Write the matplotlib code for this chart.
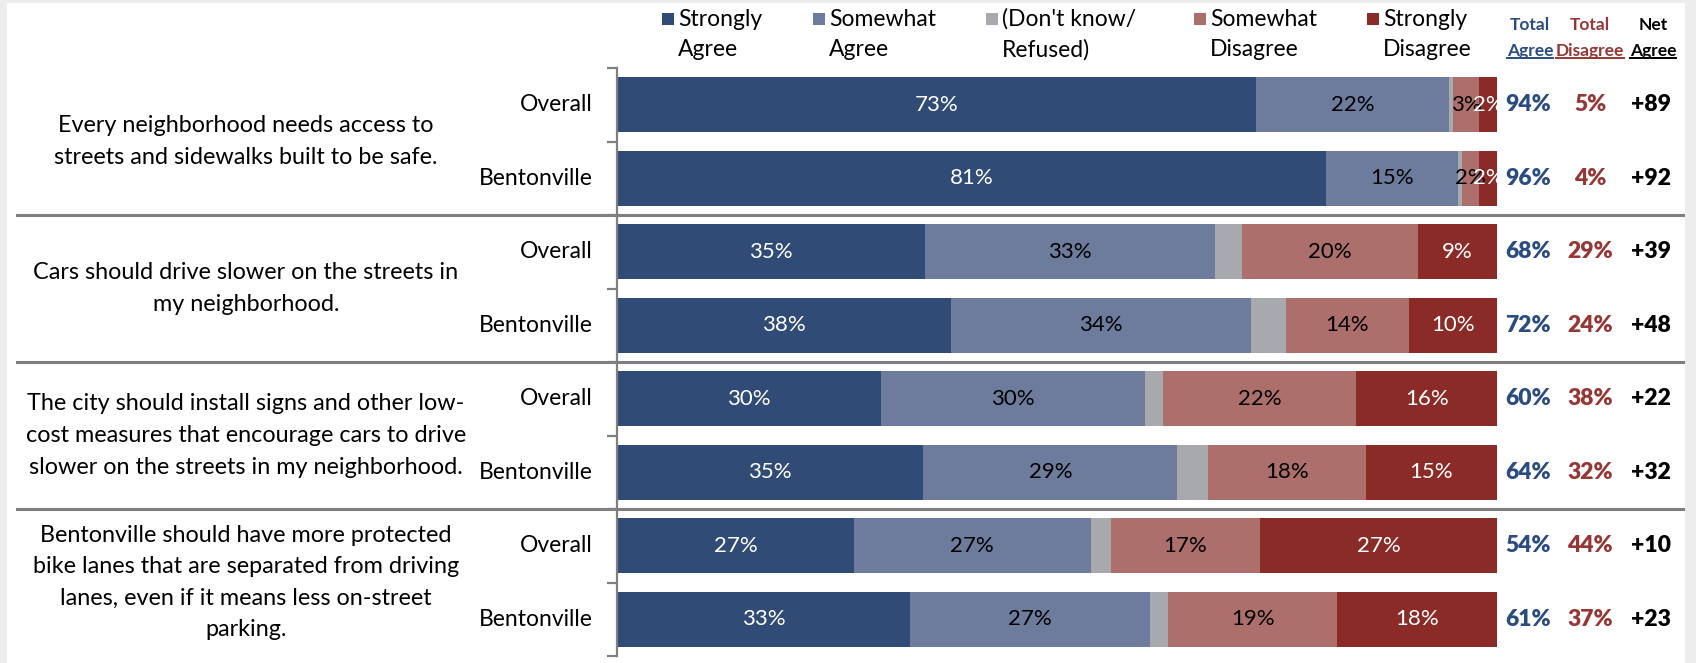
import numpy as np
import matplotlib
matplotlib.use("Agg")
import matplotlib.pyplot as plt
from matplotlib.patches import Rectangle
from matplotlib.lines import Line2D
from matplotlib.transforms import blended_transform_factory

plt.rcParams["font.family"] = ["Lato", "DejaVu Sans"]

# --- données (haut -> bas) ---
questions = [
    "Every neighborhood needs access to\nstreets and sidewalks built to be safe.",
    "Cars should drive slower on the streets in\nmy neighborhood.",
    "The city should install signs and other low-\ncost measures that encourage cars to drive\nslower on the streets in my neighborhood.",
    "Bentonville should have more protected\nbike lanes that are separated from driving\nlanes, even if it means less on-street\nparking.",
]
groups = ["Overall", "Bentonville"] * 4

strongly_agree = [73, 81, 35, 38, 30, 35, 27, 33]
somewhat_agree = [22, 15, 33, 34, 30, 29, 27, 27]
dont_know = [0.5, 0.5, 3, 4, 2, 3.5, 2.3, 2]
somewhat_disagree = [3, 2, 20, 14, 22, 18, 17, 19]
strongly_disagree = [2, 2, 9, 10, 16, 15, 27, 18]

total_agree = [94, 96, 68, 72, 60, 64, 54, 61]
total_disagree = [5, 4, 29, 24, 38, 32, 44, 37]
net_agree = [89, 92, 39, 48, 22, 32, 10, 23]

legend_labels = ["Strongly\nAgree", "Somewhat\nAgree", "(Don't know/\nRefused)",
                 "Somewhat\nDisagree", "Strongly\nDisagree"]

colors = ["#2F4B76", "#6D7B9D", "#A8A9AC", "#AD6F6B", "#8A2B27"]
text_colors = ["white", "black", None, "black", "white"]
agree_col = "#2B4C80"
disagree_col = "#953735"

W, H = 1696, 663
fig = plt.figure(figsize=(W / 100, H / 100), dpi=100, facecolor="#EDEDED")
fig.patches.append(Rectangle((7 / W, 0), (1685 - 7) / W, (H - 3) / H,
                             transform=fig.transFigure, facecolor="white",
                             edgecolor="none", zorder=-10))

ax = fig.add_axes([617 / W, 1 - 656 / H, (1497 - 617) / W, (656 - 68) / H])
ax.set_facecolor("none")

series = [strongly_agree, somewhat_agree, dont_know, somewhat_disagree, strongly_disagree]
data = np.array(series, dtype=float)
data = data / data.sum(axis=0) * 100  # chaque barre va jusqu'a 100 %
y = np.arange(len(groups))
left = np.zeros(len(groups))
for k, (vals, col, tc) in enumerate(zip(data, colors, text_colors)):
    ax.barh(y, vals, left=left, height=0.75, color=col, zorder=2)
    if tc is not None:
        for i in range(len(y)):
            ax.text(left[i] + vals[i] / 2, y[i], f"{series[k][i]}%", ha="center",
                    va="center", color=tc, fontsize=16, zorder=3)
    left += vals

ax.set_xlim(0, 100)
ax.set_ylim(len(groups) - 0.5, -0.5)
ax.set_xticks([])
ax.set_yticks(np.arange(-0.5, len(groups), 1))
ax.set_yticklabels([])
ax.tick_params(axis="y", direction="out", length=7, width=1.6, color="#808080")
for s in ["top", "right", "bottom"]:
    ax.spines[s].set_visible(False)
ax.spines["left"].set_color("#808080")
ax.spines["left"].set_linewidth(1.6)

bt = blended_transform_factory(fig.transFigure, ax.transData)

# libellés à gauche
for i, g in enumerate(groups):
    ax.text(593 / W, i, g, transform=bt, ha="right", va="center", fontsize=16.5)
for q, txt in enumerate(questions):
    ax.text(246 / W, 2 * q + 0.5, txt, transform=bt, ha="center", va="center",
            fontsize=16.8, linespacing=1.62, multialignment="center")

# séparateurs
for yy in [1.5, 3.5, 5.5]:
    ax.plot([17 / W, 1683 / W], [yy, yy], transform=bt, color="#7F7F7F",
            lw=2.2, clip_on=False, zorder=1)

# colonnes de droite
for i in range(len(groups)):
    ax.text(1528 / W, i, f"{total_agree[i]}%", transform=bt, ha="center",
            va="center", fontsize=16.5, fontweight="heavy", color=agree_col)
    ax.text(1590 / W, i, f"{total_disagree[i]}%", transform=bt, ha="center",
            va="center", fontsize=16.5, fontweight="heavy", color=disagree_col)
    ax.text(1651 / W, i, f"+{net_agree[i]}", transform=bt, ha="center",
            va="center", fontsize=16.5, fontweight="heavy", color="black")

# légende en haut
sq_x = [662, 813, 986, 1194, 1367]
for x0, lab, col in zip(sq_x, legend_labels, colors):
    fig.patches.append(Rectangle((x0 / W, 1 - 25 / H), 12 / W, 12 / H,
                                 transform=fig.transFigure, facecolor=col,
                                 edgecolor="none"))
    l1, l2 = lab.split("\n")
    fig.text((x0 + 16) / W, 1 - 19 / H, l1, ha="left", va="center", fontsize=16.5)
    fig.text((x0 + 16) / W, 1 - 50 / H, l2, ha="left", va="center", fontsize=16.5)

headers = [(1530, "Total", "Agree", agree_col), (1590, "Total", "Disagree", disagree_col),
           (1653, "Net", "Agree", "black")]
under = []
for xc, t1, t2, col in headers:
    fig.text(xc / W, 1 - 25 / H, t1, ha="center", va="center", fontsize=12.5,
             fontweight="bold", color=col)
    t = fig.text(xc / W, 1 - 51 / H, t2, ha="center", va="center", fontsize=12.5,
                 fontweight="bold", color=col)
    under.append((t, col))

fig.canvas.draw()
r = fig.canvas.get_renderer()
for t, col in under:
    bb = t.get_window_extent(r)
    fig.lines.append(Line2D([bb.x0 / W, bb.x1 / W], [(bb.y0 + 1) / H] * 2,
                            transform=fig.transFigure, color=col, lw=1.4))

fig.savefig("out.png", dpi=100, facecolor=fig.get_facecolor())
